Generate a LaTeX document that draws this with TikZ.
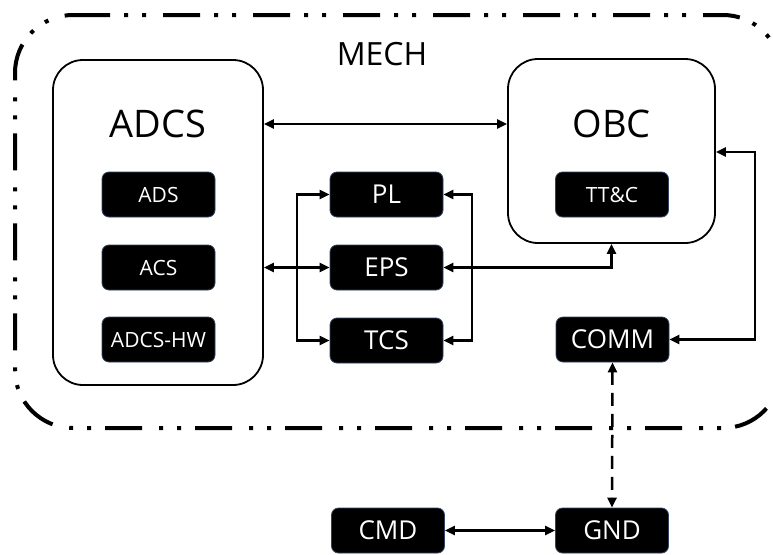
\documentclass[tikz,border=0pt]{standalone}
\usepackage{fontspec}
\setmainfont{Open Sans}
\usetikzlibrary{arrows.meta}
\definecolor{edgeblue}{RGB}{50,70,100}
\begin{document}
\begin{tikzpicture}[x=1pt,y=-1pt,
  >={Triangle[length=10pt,width=9pt]},
  big/.style={draw, line width=1.8pt, rounded corners=30pt, inner sep=0pt},
  title/.style={inner sep=0pt, font=\fontsize{38}{44}\selectfont},
  blk/.style={fill=black, draw=edgeblue, line width=0.8pt, rounded corners=7pt,
    minimum width=113pt, minimum height=45pt, inner sep=0pt, text=white,
    font=\fontsize{26}{30}\selectfont},
  sblk/.style={blk, font=\fontsize{21}{25}\selectfont},
  conn/.style={line width=2.5pt, line join=miter},
  mech/.style={line width=4pt, rounded corners=58pt,
    dash pattern=on 37pt off 14pt on 4pt off 14pt on 4pt off 17pt}
]
\useasboundingbox (0,0) rectangle (773,554);
\begin{scope}
\clip (0,0) rectangle (773,554);
\draw[mech] (73,15) -- (781,15) -- (781,428) -- (15,428) -- (15,15) -- (73,15);
\end{scope}
\node[inner sep=0pt, font=\fontsize{32}{38}\selectfont] (MECH) at (382,54) {MECH};

% ADCS
\node[big, minimum width=210pt, minimum height=325pt] (ADCS) at (158,222.5) {};
\node[title] (ADCStitle) at (158,124) {ADCS};
\node[sblk] (ADS) at (158.5,194.5) {ADS};
\node[sblk] (ACS) at (158.5,267.5) {ACS};
\node[sblk] (ADCSHW) at (158.5,339.5) {ADCS-HW};

% OBC
\node[big, minimum width=207pt, minimum height=184pt] (OBC) at (611.5,151) {};
\node[title] (OBCtitle) at (611.5,124) {OBC};
\node[sblk] (TTC) at (612,194.5) {TT\&C};

% middle
\node[blk] (PL) at (386.5,194.5) {PL};
\node[blk] (EPS) at (386.5,267.5) {EPS};
\node[blk] (TCS) at (386.5,340.5) {TCS};

\node[blk] (COMM) at (612.5,339.5) {COMM};
\node[blk] (CMD) at (388,530.5) {CMD};
\node[blk] (GND) at (612,530.5) {GND};

\coordinate (lb) at (297,0);
\coordinate (rb) at (472,0);
\coordinate (cr) at (755,152);

% connectors
\draw[conn,<->] (ADCStitle -| ADCS.east) -- (ADCStitle -| OBC.west);
\draw[conn,<->] (EPS.west -| ADCS.east) -- (EPS.west);
\draw[conn,->] (lb |- EPS.west) -- (lb |- PL.west) -- (PL.west);
\draw[conn,->] (lb |- EPS.west) -- (lb |- TCS.west) -- (TCS.west);
\draw[conn,->] (rb |- EPS.east) -- (rb |- PL.east) -- (PL.east);
\draw[conn,->] (rb |- EPS.east) -- (rb |- TCS.east) -- (TCS.east);
\draw[conn,<->] (EPS.east) -- (EPS.east -| OBC.south) -- (OBC.south);
\draw[conn,<->] (COMM.east) -| (cr) -- (cr -| OBC.east);
\draw[conn,<->,dash pattern=on 13pt off 8pt] (COMM.south) -- (GND.north);
\draw[conn,<->] (CMD.east) -- (GND.west);
\end{tikzpicture}
\end{document}
